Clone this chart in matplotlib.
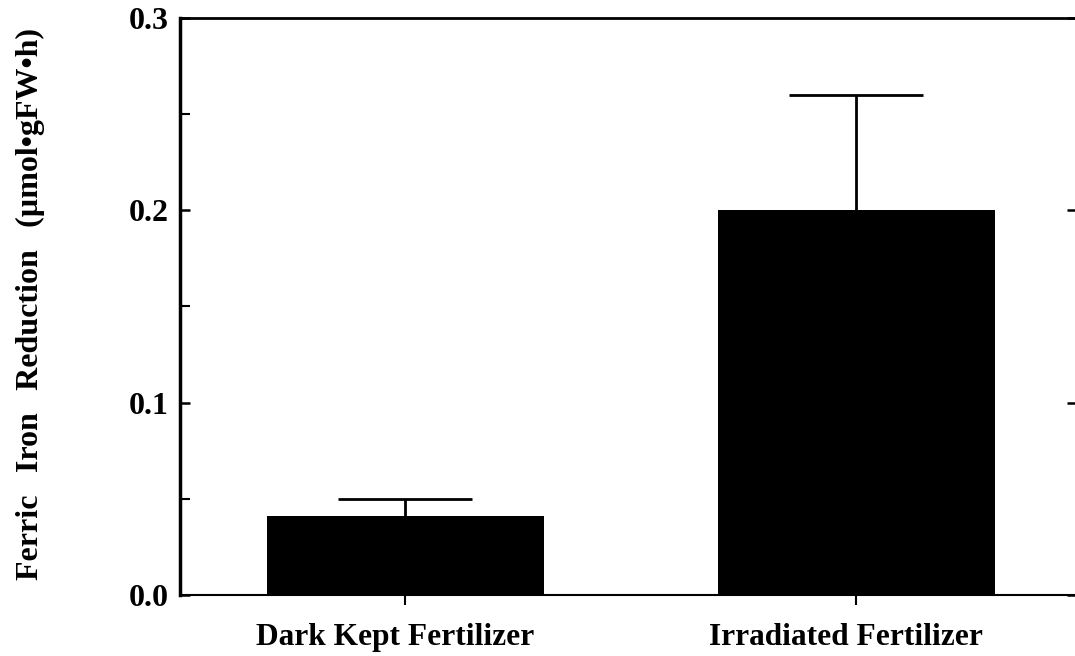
import matplotlib
matplotlib.use("Agg")
import matplotlib.pyplot as plt
import matplotlib.transforms as mtransforms
from matplotlib.ticker import MultipleLocator, FormatStrFormatter

categories = ["Dark Kept Fertilizer", "Irradiated Fertilizer"]
values = [0.041, 0.200]
errors = [0.009, 0.060]
y_ticks = [0.0, 0.1, 0.2, 0.3]

plt.rcParams['font.family'] = ['Liberation Serif', 'DejaVu Serif']
plt.rcParams['font.weight'] = 'bold'

fig = plt.figure(figsize=(10.75, 6.56), dpi=100)
ax = fig.add_axes([180/1075, 61/656, 897/1075, 577/656])

x = list(range(len(categories)))
ax.bar(x, values, width=0.615, color='black', zorder=2)
eb = ax.errorbar(x, values, yerr=[[0]*len(errors), errors], fmt='none', ecolor='black',
                 elinewidth=2, capsize=48.5, capthick=2, zorder=1)
# hide the zero-length lower caps
caplines = eb[1]
if len(caplines) >= 2:
    caplines[0].set_visible(False)

ax.set_xlim(-0.5, 1.49)
ax.set_ylim(0, 0.3)
ax.set_yticks(y_ticks)
ax.yaxis.set_major_formatter(FormatStrFormatter('%.1f'))
ax.yaxis.set_minor_locator(MultipleLocator(0.05))
ax.set_xticks(x)
ax.set_xticklabels(categories, fontsize=22.6, fontweight='bold')

for lbl in ax.get_yticklabels():
    lbl.set_fontsize(23)
    lbl.set_fontweight('bold')

ax.tick_params(axis='y', which='major', direction='in', length=7.5, width=1.8, right=True, pad=8)
ax.tick_params(axis='y', which='minor', direction='in', length=7, width=1.5, left=True, right=False)
ax.tick_params(axis='x', which='major', direction='out', length=7.5, width=1.5, pad=12.5)

offset = mtransforms.ScaledTranslation(-10/100, 0, fig.dpi_scale_trans)
for lbl in ax.get_xticklabels():
    lbl.set_transform(lbl.get_transform() + offset)

ax.spines['left'].set_linewidth(2.5)
ax.spines['top'].set_linewidth(2)
ax.spines['right'].set_linewidth(2)
ax.spines['bottom'].set_linewidth(1.5)

sp = "  \u2009"
fig.text(30/1075, (656-304)/656, f"Ferric{sp}Iron{sp}Reduction{sp}(\u00b5mol\u2022gFW\u2022h)", rotation=90,
         fontsize=23, fontweight='bold', ha='center', va='center')

fig.savefig("out.png", dpi=100)
